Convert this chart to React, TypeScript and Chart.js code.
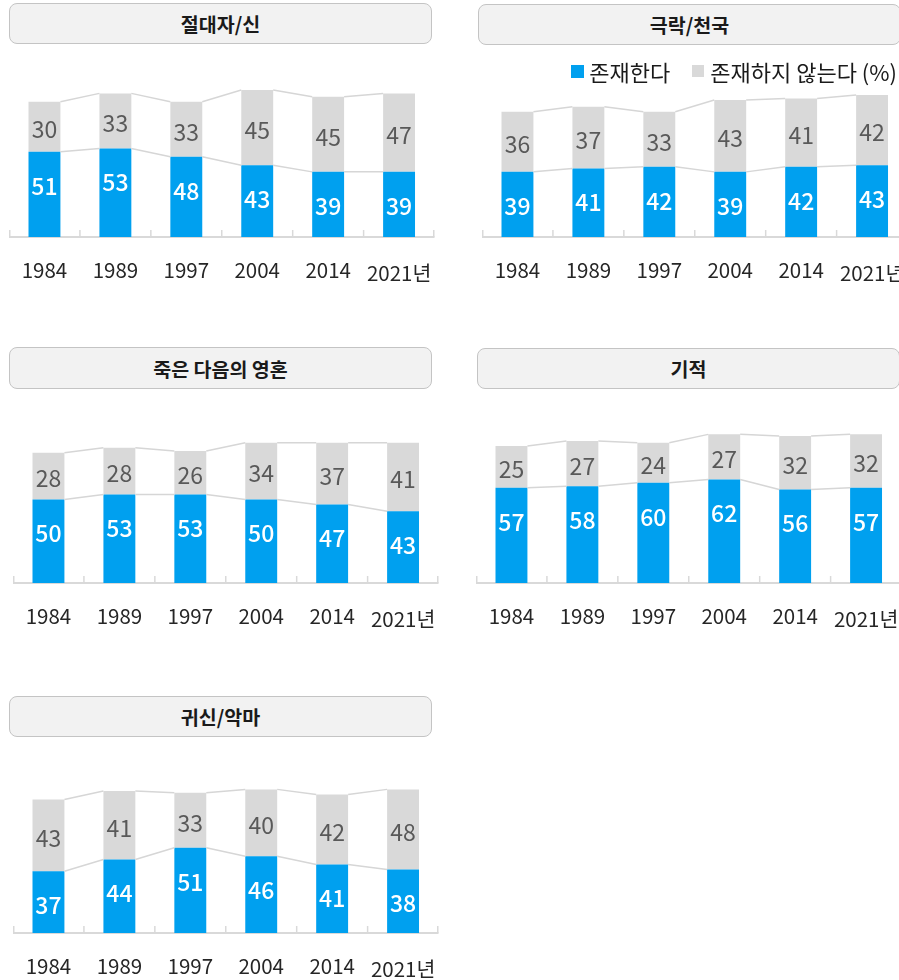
import React, { useEffect, useRef } from "react";
import { Chart, registerables } from "chart.js";

Chart.register(...registerables);

// ---------- data ----------
const years = ["1984", "1989", "1997", "2004", "2014", "2021년"];
const seriesNames = ["존재한다", "존재하지 않는다"];
const legendSuffix = " (%)";

const godExist = [51, 53, 48, 43, 39, 39];
const godNot = [30, 33, 33, 45, 45, 47];
const heavenExist = [39, 41, 42, 39, 42, 43];
const heavenNot = [36, 37, 33, 43, 41, 42];
const soulExist = [50, 53, 53, 50, 47, 43];
const soulNot = [28, 28, 26, 34, 37, 41];
const miracleExist = [57, 58, 60, 62, 56, 57];
const miracleNot = [25, 27, 24, 27, 32, 32];
const ghostExist = [37, 44, 51, 46, 41, 38];
const ghostNot = [43, 41, 33, 40, 42, 48];

const panelTitles = ["절대자/신", "극락/천국", "죽은 다음의 영혼", "기적", "귀신/악마"];

const yMin = 0;
const yMax = 100;

// ---------- styles ----------
const FONT = "'Noto Sans CJK KR', 'Noto Sans', sans-serif";
const BLUE = "#00A0EF";
const GRAY = "#D9D9D9";
const LINE = "#D6D6D6";
const AXIS = "#D9D9D9";

const decorPlugin = {
  id: "decor",
  beforeDatasetsDraw(chart: any) {
    const { ctx, chartArea } = chart;
    const xs = chart.scales.x;
    const n = chart.data.labels.length;
    ctx.save();
    ctx.strokeStyle = AXIS;
    ctx.lineWidth = 2;
    ctx.beginPath();
    ctx.moveTo(chartArea.left, chartArea.bottom);
    ctx.lineTo(chartArea.right, chartArea.bottom);
    ctx.stroke();
    ctx.lineWidth = 1.5;
    for (let k = 0; k <= n; k++) {
      let px: number;
      if (k === 0) px = chartArea.left + 0.75;
      else if (k === n) px = chartArea.right - 0.75;
      else px = (xs.getPixelForValue(k - 1) + xs.getPixelForValue(k)) / 2;
      ctx.beginPath();
      ctx.moveTo(px, chartArea.bottom);
      ctx.lineTo(px, chartArea.bottom - 7);
      ctx.stroke();
    }
    ctx.restore();
  },
  afterDatasetsDraw(chart: any) {
    const { ctx } = chart;
    ctx.save();
    // connecting lines
    ctx.strokeStyle = LINE;
    ctx.lineWidth = 1.5;
    chart.data.datasets.forEach((ds: any, di: number) => {
      const meta = chart.getDatasetMeta(di);
      for (let i = 0; i < meta.data.length - 1; i++) {
        const a = meta.data[i];
        const b = meta.data[i + 1];
        ctx.beginPath();
        ctx.moveTo(a.x + a.width / 2, a.y);
        ctx.lineTo(b.x - b.width / 2, b.y);
        ctx.stroke();
      }
    });
    // value labels
    ctx.textAlign = "center";
    ctx.textBaseline = "middle";
    chart.data.datasets.forEach((ds: any, di: number) => {
      const meta = chart.getDatasetMeta(di);
      meta.data.forEach((el: any, i: number) => {
        const v = ds.data[i];
        if (di === 0) {
          ctx.fillStyle = "#FFFFFF";
          ctx.font = `500 23px ${FONT}`;
          ctx.fillText(String(v), el.x, el.y + 34);
        } else {
          ctx.fillStyle = "#595959";
          ctx.font = `400 23px ${FONT}`;
          ctx.fillText(String(v), el.x, (el.y + el.base) / 2 + 2.5);
        }
      });
    });
    ctx.restore();
  },
};

type PanelProps = {
  title: string;
  exist: number[];
  notExist: number[];
  left: number;
  top: number;
  titleLeft: number;
  titleTop: number;
  titleHeight: number;
};

function TitleBox({ text, left, top, height }: { text: string; left: number; top: number; height: number }) {
  return (
    <div
      style={{
        position: "absolute",
        left,
        top,
        width: 423,
        height,
        boxSizing: "border-box",
        border: "1px solid #C4C4C4",
        borderRadius: 8,
        background: "#F2F2F2",
        display: "flex",
        alignItems: "center",
        justifyContent: "center",
        fontFamily: FONT,
        fontWeight: 700,
        fontSize: 19.5,
        color: "#1A1A1A",
      }}
    >
      {text}
    </div>
  );
}

function Panel({ title, exist, notExist, left, top, titleLeft, titleTop, titleHeight }: PanelProps) {
  const ref = useRef<HTMLCanvasElement | null>(null);
  useEffect(() => {
    if (!ref.current) return;
    const chart = new Chart(ref.current, {
      type: "bar",
      data: {
        labels: years,
        datasets: [
          { label: seriesNames[0], data: exist, backgroundColor: BLUE, borderWidth: 0 },
          { label: seriesNames[1], data: notExist, backgroundColor: GRAY, borderWidth: 0 },
        ],
      },
      options: {
        responsive: false,
        animation: false,
        events: [],
        layout: { padding: { left: 9, right: 9, top: 10, bottom: 0 } },
        datasets: { bar: { categoryPercentage: 1, barPercentage: 0.45 } },
        plugins: { legend: { display: false }, tooltip: { enabled: false }, title: { display: false } },
        scales: {
          x: {
            stacked: true,
            grid: { display: false },
            border: { display: false },
            afterFit: (scale: any) => {
              scale.height = 60;
            },
            ticks: {
              color: "#262626",
              padding: 13,
              maxRotation: 0,
              autoSkip: false,
              font: (c: any) => ({ family: FONT, size: 20.5, lineHeight: c.index === years.length - 1 ? 1.5 : 1.2 }),
            },
          },
          y: { stacked: true, display: false, min: yMin, max: yMax },
        },
      },
      plugins: [decorPlugin],
    } as any);
    return () => chart.destroy();
  }, [exist, notExist]);
  return (
    <>
      <TitleBox text={title} left={titleLeft} top={titleTop} height={titleHeight} />
      <canvas ref={ref} width={445} height={237} style={{ position: "absolute", left, top }} />
    </>
  );
}

export default function App() {
  return (
    <div
      style={{
        position: "absolute",
        left: 0,
        top: 0,
        width: 899,
        height: 980,
        overflow: "hidden",
        background: "#FFFFFF",
      }}
    >
      <Panel title={panelTitles[0]} exist={godExist} notExist={godNot} left={0} top={60} titleLeft={9} titleTop={3} titleHeight={41} />
      <Panel title={panelTitles[1]} exist={heavenExist} notExist={heavenNot} left={473} top={60} titleLeft={478} titleTop={4} titleHeight={41} />
      <Panel title={panelTitles[2]} exist={soulExist} notExist={soulNot} left={4} top={406} titleLeft={9} titleTop={347} titleHeight={42} />
      <Panel title={panelTitles[3]} exist={miracleExist} notExist={miracleNot} left={467} top={406} titleLeft={477} titleTop={348} titleHeight={41} />
      <Panel title={panelTitles[4]} exist={ghostExist} notExist={ghostNot} left={4} top={756} titleLeft={9} titleTop={696} titleHeight={41} />
      <div
        style={{
          position: "absolute",
          right: 2,
          top: 57,
          display: "flex",
          alignItems: "center",
          fontFamily: FONT,
          fontSize: 22,
          color: "#1A1A1A",
          lineHeight: "28px",
          whiteSpace: "nowrap",
        }}
      >
        <span style={{ width: 13, height: 13, background: BLUE, display: "inline-block", marginRight: 5 }} />
        <span>{seriesNames[0]}</span>
        <span style={{ width: 12, height: 12, background: GRAY, display: "inline-block", marginLeft: 22, marginRight: 6 }} />
        <span>
          {seriesNames[1]}
          {legendSuffix}
        </span>
      </div>
    </div>
  );
}
